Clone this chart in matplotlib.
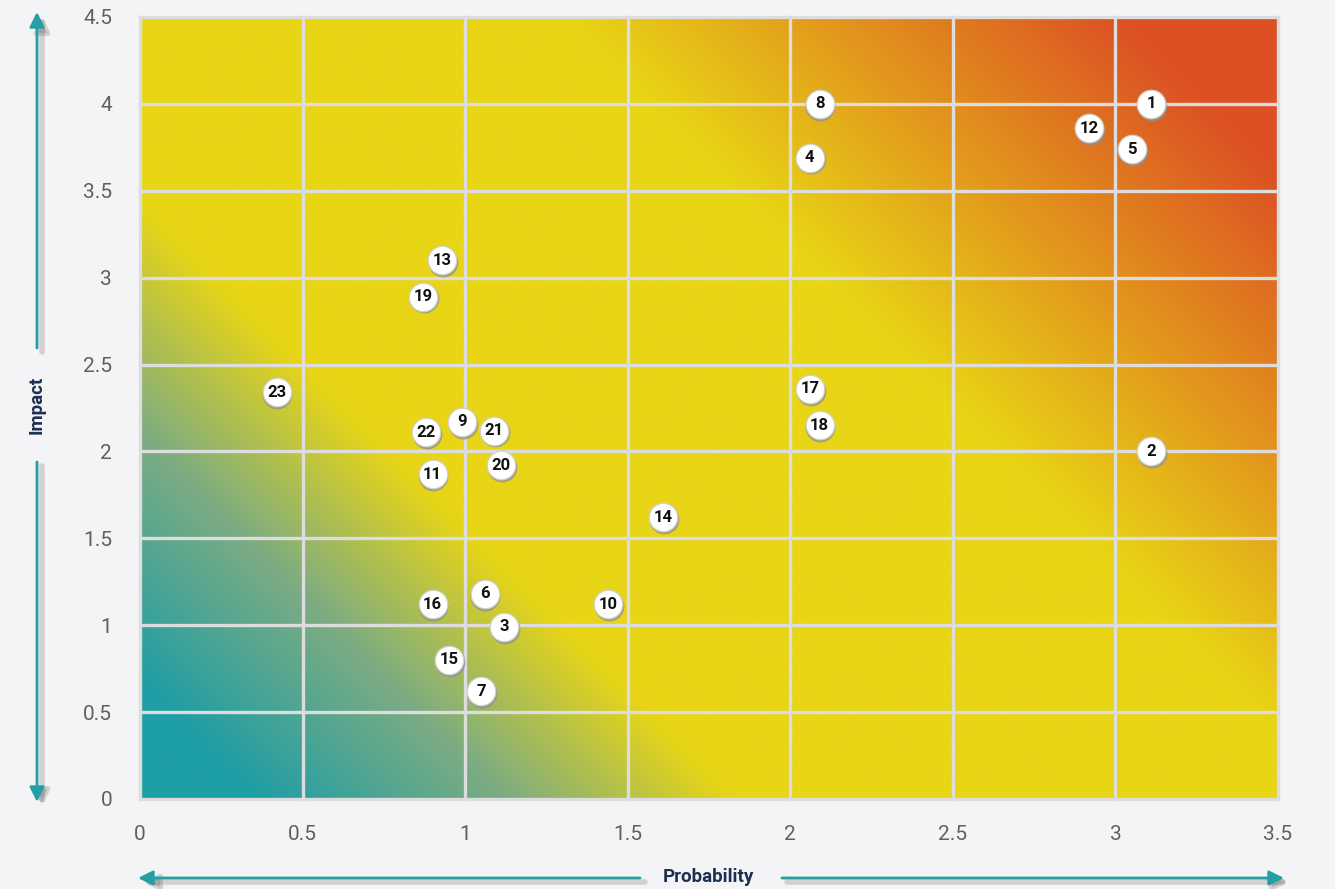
import numpy as np
import matplotlib
matplotlib.use("Agg")
import matplotlib.pyplot as plt
import matplotlib.transforms as mtransforms
from matplotlib.colors import LinearSegmentedColormap

# risk points: id, probability, impact
ids = [1, 2, 3, 4, 5, 6, 7, 8, 9, 10, 11, 12, 13, 14, 15, 16, 17, 18, 19, 20, 21, 22, 23]
probability = [3.11, 3.11, 1.12, 2.06, 3.05, 1.06, 1.05, 2.09, 0.99, 1.44, 0.90, 2.92,
               0.93, 1.61, 0.95, 0.90, 2.06, 2.09, 0.87, 1.11, 1.09, 0.88, 0.42]
impact = [4.00, 2.00, 0.99, 3.69, 3.74, 1.18, 0.62, 4.00, 2.17, 1.12, 1.87, 3.86,
          3.10, 1.62, 0.80, 1.12, 2.36, 2.15, 2.89, 1.92, 2.12, 2.11, 2.34]

x_ticks = [0, 0.5, 1, 1.5, 2, 2.5, 3, 3.5]
y_ticks = [0, 0.5, 1, 1.5, 2, 2.5, 3, 3.5, 4, 4.5]

BG = "#f4f4f6"
TEAL = "#22a0a6"
NAVY = "#1b2f52"
BOLD_FONT = ["Roboto", "DejaVu Sans"]

fig = plt.figure(figsize=(13.35, 8.89), dpi=100, facecolor=BG)
ax = fig.add_axes([140 / 1335, 90 / 889, 1138 / 1335, 782 / 889])
ax.set_facecolor(BG)

# diagonal gradient (bottom-left teal -> yellow -> top-right red)
cmap = LinearSegmentedColormap.from_list(
    "risk", [(0.0, "#1e9ea6"), (0.06, "#1f9ea5"), (0.19, "#7dac82"),
             (0.31, "#e8d516"), (0.63, "#e8d516"), (0.92, "#dc5124"),
             (1.0, "#dc5024")])
gx, gy = np.meshgrid(np.linspace(0, 3.5, 600), np.linspace(0, 4.5, 600))
t = (gx * 1138 / 3.5 + gy * 782 / 4.5) / (1138 + 782)
ax.imshow(cmap(t), extent=(0, 3.5, 0, 4.5), origin="lower", aspect="auto",
          interpolation="bilinear", zorder=0)

for xv in x_ticks:
    ax.axvline(xv, color="#dddddd", lw=2.4, zorder=1, clip_on=False)
for yv in y_ticks:
    ax.axhline(yv, color="#dddddd", lw=2.4, zorder=1, clip_on=False)

ax.set_xlim(0, 3.5)
ax.set_ylim(0, 4.5)
ax.set_xticks(x_ticks)
ax.set_xticklabels([f"{v:g}" for v in x_ticks])
ax.set_yticks(y_ticks)
ax.set_yticklabels([f"{v:g}" for v in y_ticks])
ax.tick_params(length=0, labelsize=15, labelcolor="#606060", pad=20)
ax.tick_params(axis="x", pad=19)
for lab in ax.get_xticklabels() + ax.get_yticklabels():
    lab.set_family(["Roboto", "DejaVu Sans"])
for s in ax.spines.values():
    s.set_visible(False)

# ball markers with numbers
shadow = mtransforms.offset_copy(ax.transData, fig=fig, x=0.6, y=-1.2, units="points")
ax.scatter(probability, impact, s=21.5 ** 2, color="#8f8f8f", alpha=0.75, zorder=3,
           transform=shadow, linewidths=0)
ax.scatter(probability, impact, s=20.5 ** 2, color="white", edgecolors="#d0d0d0",
           linewidths=0.9, zorder=4)
for i, px, py in zip(ids, probability, impact):
    ax.text(px, py, str(i), ha="center", va="center", fontsize=12, fontweight="bold",
            color="#111111", zorder=5, family=BOLD_FONT)

# axis arrows drawn in figure pixels
ov = fig.add_axes([0, 0, 1, 1], zorder=5)
ov.set_xlim(0, 1335)
ov.set_ylim(889, 0)
ov.axis("off")
ov.patch.set_alpha(0)

segments = [((37, 348), (37, 12)), ((37, 462), (37, 802)),
            ((640, 878), (138, 878)), ((782, 878), (1284, 878))]
for (x0, y0), (x1, y1) in segments:
    ov.annotate("", xy=(x1 + 5, y1 + 4), xytext=(x0 + 5, y0 + 4),
                arrowprops=dict(arrowstyle="-|>", color="#555555", lw=4,
                                mutation_scale=20, alpha=0.22, shrinkA=0, shrinkB=0))
    ov.annotate("", xy=(x1, y1), xytext=(x0, y0),
                arrowprops=dict(arrowstyle="-|>", color=TEAL, lw=2,
                                mutation_scale=22, shrinkA=0, shrinkB=0))

ov.text(37, 405, "Impact", rotation=90, ha="center", va="center", fontsize=13.5,
        fontweight="bold", color=NAVY, family=BOLD_FONT)
ov.text(708, 877, "Probability", ha="center", va="center", fontsize=13.5,
        fontweight="bold", color=NAVY, family=BOLD_FONT)

fig.savefig("out.png", dpi=100, facecolor=BG)
